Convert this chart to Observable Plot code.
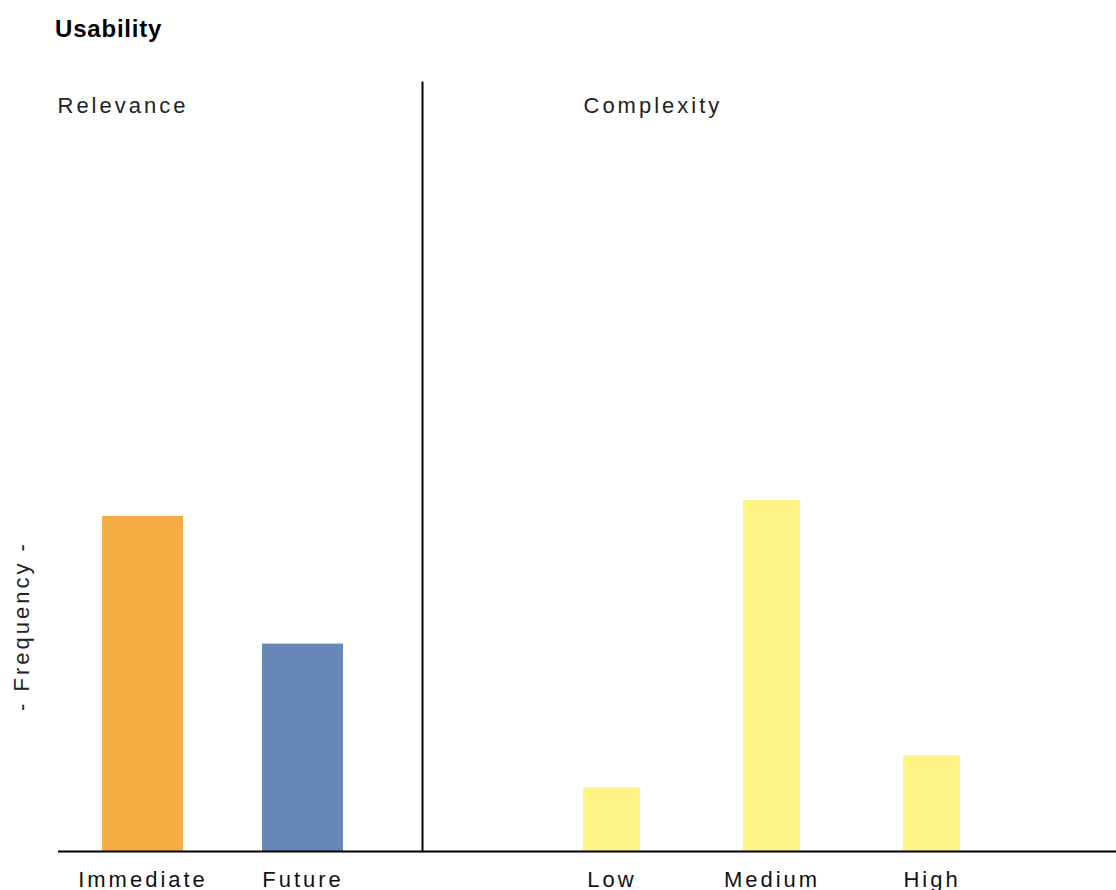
<!DOCTYPE html>
<html>
<head>
<meta charset="utf-8">
<script src="https://cdn.jsdelivr.net/npm/d3@7"></script>
<script src="https://cdn.jsdelivr.net/npm/@observablehq/plot@0.6"></script>
<style>
  html, body { margin: 0; padding: 0; background: white; }
  body { width: 1116px; height: 890px; overflow: hidden; font-family: "Liberation Sans", Arial, sans-serif; }
  #title { height: 46px; padding-top: 4px; line-height: 50px; padding-left: 55px; font-size: 24px; font-weight: bold; letter-spacing: 0.8px; color: #000; box-sizing: content-box; overflow: visible; }
  #row { display: flex; flex-direction: row; align-items: flex-start; }
  #row svg { display: block; overflow: visible; }
  #row svg text { letter-spacing: 3px; font-family: "Liberation Sans", Arial, sans-serif; }
</style>
</head>
<body>
<div id="title">Usability</div>
<div id="row"></div>
<script>
// Data
const relevanceCategories = ["Immediate", "Future"];
const relevanceValues = [21, 13];
const complexityCategories = ["Low", "Medium", "High"];
const complexityValues = [4, 22, 6];
const panelTitles = ["Relevance", "Complexity"];
const yAxisLabel = "- Frequency -";

const relevance = relevanceCategories.map((c, i) => ({category: c, value: relevanceValues[i]}));
const complexity = complexityCategories.map((c, i) => ({category: c, value: complexityValues[i]}));

const H = 840, MT = 32, MB = 39;
const yDomain = [0, 48.2];
const fs = 22;

const left = Plot.plot({
  width: 421, height: H,
  marginLeft: 58, marginRight: 0, marginTop: MT, marginBottom: MB,
  x: {domain: relevanceCategories, paddingInner: 0.49375, paddingOuter: 0.38125, align: 0.3607, label: null},
  y: {domain: yDomain, axis: null},
  color: {domain: relevanceCategories, range: ["#F5AC45", "#6787B7"]},
  style: {fontSize: fs + "px", fontFamily: "Liberation Sans, Arial, sans-serif", color: "#111"},
  marks: [
    Plot.barY(relevance, {x: "category", y: "value", fill: "category"}),
    Plot.ruleY([0], {stroke: "#000", strokeWidth: 2}),
    Plot.axisX({tickSize: 0, tickPadding: 20, fontSize: fs, label: null, fill: "#111"}),
    Plot.text([panelTitles[0]], {frameAnchor: "top-left", textAnchor: "start", lineAnchor: "top", dx: -1, dy: 15, fontSize: fs, fill: "#222"}),
    Plot.text([yAxisLabel], {frameAnchor: "left", textAnchor: "middle", lineAnchor: "middle", rotate: -90, dx: -37, dy: 159, fontSize: fs, fill: "#222"})
  ]
});

const right = Plot.plot({
  width: 695, height: H,
  marginLeft: 1, marginRight: 0, marginTop: MT, marginBottom: MB,
  x: {domain: complexityCategories, paddingInner: 0.64375, paddingOuter: 0.9906, align: 0.508, label: null},
  y: {domain: yDomain, axis: null},
  style: {fontSize: fs + "px", fontFamily: "Liberation Sans, Arial, sans-serif", color: "#111"},
  marks: [
    Plot.barY(complexity, {x: "category", y: "value", fill: "#FFF384"}),
    Plot.ruleY([0], {stroke: "#000", strokeWidth: 2, insetLeft: -1}),
    Plot.frame({anchor: "left", stroke: "#000", strokeWidth: 2}),
    Plot.axisX({tickSize: 0, tickPadding: 20, fontSize: fs, label: null, fill: "#111"}),
    Plot.text([panelTitles[1]], {frameAnchor: "top-left", textAnchor: "start", lineAnchor: "top", dx: 161, dy: 15, fontSize: fs, fill: "#222"})
  ]
});

document.getElementById("row").append(left, right);
</script>
</body>
</html>
